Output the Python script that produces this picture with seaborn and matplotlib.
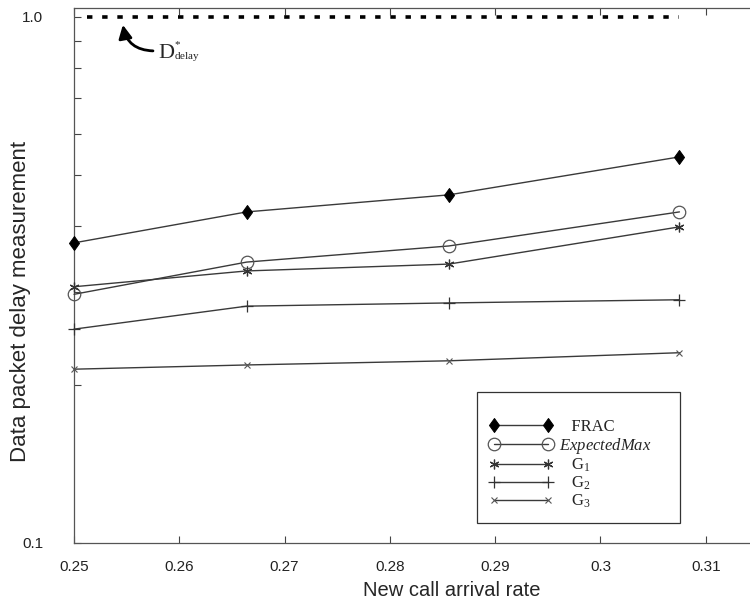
import matplotlib
matplotlib.use("Agg")
import matplotlib.pyplot as plt
from matplotlib.path import Path
import seaborn as sns
import pandas as pd
import numpy as np

# ---- data ----
rates = [0.25, 0.2664, 0.2856, 0.3075]
frac = [0.372, 0.426, 0.459, 0.542]
expected_max = [0.297, 0.342, 0.367, 0.426]
g1 = [0.307, 0.329, 0.339, 0.399]
g2 = [0.255, 0.282, 0.286, 0.290]
g3 = [0.214, 0.218, 0.222, 0.230]
d_delay = 1.0
series_names = ["FRAC", "ExpectedMax", "G1", "G2", "G3"]
legend_labels = ["   FRAC", r"$\mathit{ExpectedMax}$     ", r"   $\mathrm{G}_{1}$",
                 r"   $\mathrm{G}_{2}$", r"   $\mathrm{G}_{3}$"]
xticks = [0.25, 0.26, 0.27, 0.28, 0.29, 0.3, 0.31]
xticklabels = ["0.25", "0.26", "0.27", "0.28", "0.29", "0.3", "0.31"]

rows = []
for name, vals in zip(series_names, [frac, expected_max, g1, g2, g3]):
    for r, v in zip(rates, vals):
        rows.append({"rate": r, "delay": v, "series": name})
df = pd.DataFrame(rows)

sns.set_style("ticks")
plt.rcParams["font.family"] = ["Liberation Sans", "DejaVu Sans"]
plt.rcParams["mathtext.fontset"] = "custom"
plt.rcParams["mathtext.rm"] = "Liberation Serif"
plt.rcParams["mathtext.it"] = "Liberation Serif:italic"

fig = plt.figure(figsize=(7.5, 6.08), dpi=100)
ax = fig.add_axes([74 / 750, 1 - 543 / 608, 1 - 74 / 750, (543 - 8) / 608])

diamond = Path([(0, 1), (0.72, 0), (0, -1), (-0.72, 0), (0, 1)],
               [Path.MOVETO, Path.LINETO, Path.LINETO, Path.LINETO, Path.CLOSEPOLY])

line_col = "#3a3a3a"
styles = {
    "FRAC": dict(marker=diamond, markersize=10, markerfacecolor="black", markeredgecolor="black"),
    "ExpectedMax": dict(marker="o", markersize=9, markerfacecolor="none", markeredgecolor="#555555", markeredgewidth=0.9),
    "G1": dict(marker=(6, 2, 0), markersize=7, markerfacecolor="none", markeredgecolor="#333333", markeredgewidth=0.9),
    "G2": dict(marker="+", markersize=9, markeredgecolor="#333333", markeredgewidth=0.9),
    "G3": dict(marker="x", markersize=4.5, markeredgecolor="#555555", markeredgewidth=0.8),
}

handles = []
for name in series_names:
    sub = df[df["series"] == name]
    sns.lineplot(data=sub, x="rate", y="delay", ax=ax, color=line_col, linewidth=1.0,
                 legend=False, clip_on=False, zorder=5, **styles[name])
    handles.append(ax.lines[-1])

# target line
ax.plot([rates[0] + 0.0012, rates[-1]], [d_delay, d_delay], color="black", linewidth=2.6,
        linestyle=(0, (1.5, 2.7)), dash_capstyle="butt")

ax.set_yscale("log")
ax.set_ylim(0.1, 1.04)
ax.set_xlim(0.25, 0.3142)
ax.set_yticks([0.1, 1.0])
ax.set_yticklabels(["0.1", "1.0"])
ax.set_yticks([0.2, 0.3, 0.4, 0.5, 0.6, 0.7, 0.8, 0.9], minor=True)
ax.set_yticklabels([], minor=True)
ax.set_xticks(xticks)
ax.set_xticklabels(xticklabels)
ax.tick_params(axis="both", which="both", direction="in", length=5, width=0.8,
               color="#444444", labelsize=11, labelcolor="#222222")
ax.tick_params(axis="x", which="major", top=True, pad=12)
ax.tick_params(axis="y", which="major", pad=22)
for side in ["left", "bottom", "top"]:
    ax.spines[side].set_color("#555555")
    ax.spines[side].set_linewidth(0.9)
ax.spines["right"].set_visible(False)

ax.set_xlabel("New call arrival rate", fontsize=14.5)
ax.set_ylabel("Data packet delay measurement", fontsize=16)
ax.xaxis.set_label_coords(0.559, -0.071)
ax.yaxis.set_label_coords(-0.063, 0.452)

ax.annotate("", xy=(0.25464, 0.966), xytext=(0.2575, 0.862),
            arrowprops=dict(arrowstyle="-|>,head_length=0.8,head_width=0.4", color="black",
                            lw=2.0, shrinkA=0, shrinkB=0,
                            connectionstyle="arc3,rad=-0.4"))
ax.text(0.25805, 0.836, "D", fontsize=16, family="Liberation Serif", ha="left", va="baseline")
ax.text(0.25950, 0.848, r"$^{*}_{\mathrm{delay}}$", fontsize=11.4, ha="left", va="baseline")

leg = ax.legend(handles, legend_labels, loc="lower left", bbox_to_anchor=(0.596, 0.0374),
                borderaxespad=0,
                frameon=True, fancybox=False, edgecolor="#333333", framealpha=1,
                prop={"family": "Liberation Serif", "size": 12}, numpoints=2,
                handlelength=3.8, handletextpad=0.35, labelspacing=0.05,
                borderpad=0.75, title=" ", title_fontsize=10)
leg.get_frame().set_linewidth(0.9)

fig.savefig("out.png", dpi=100)
